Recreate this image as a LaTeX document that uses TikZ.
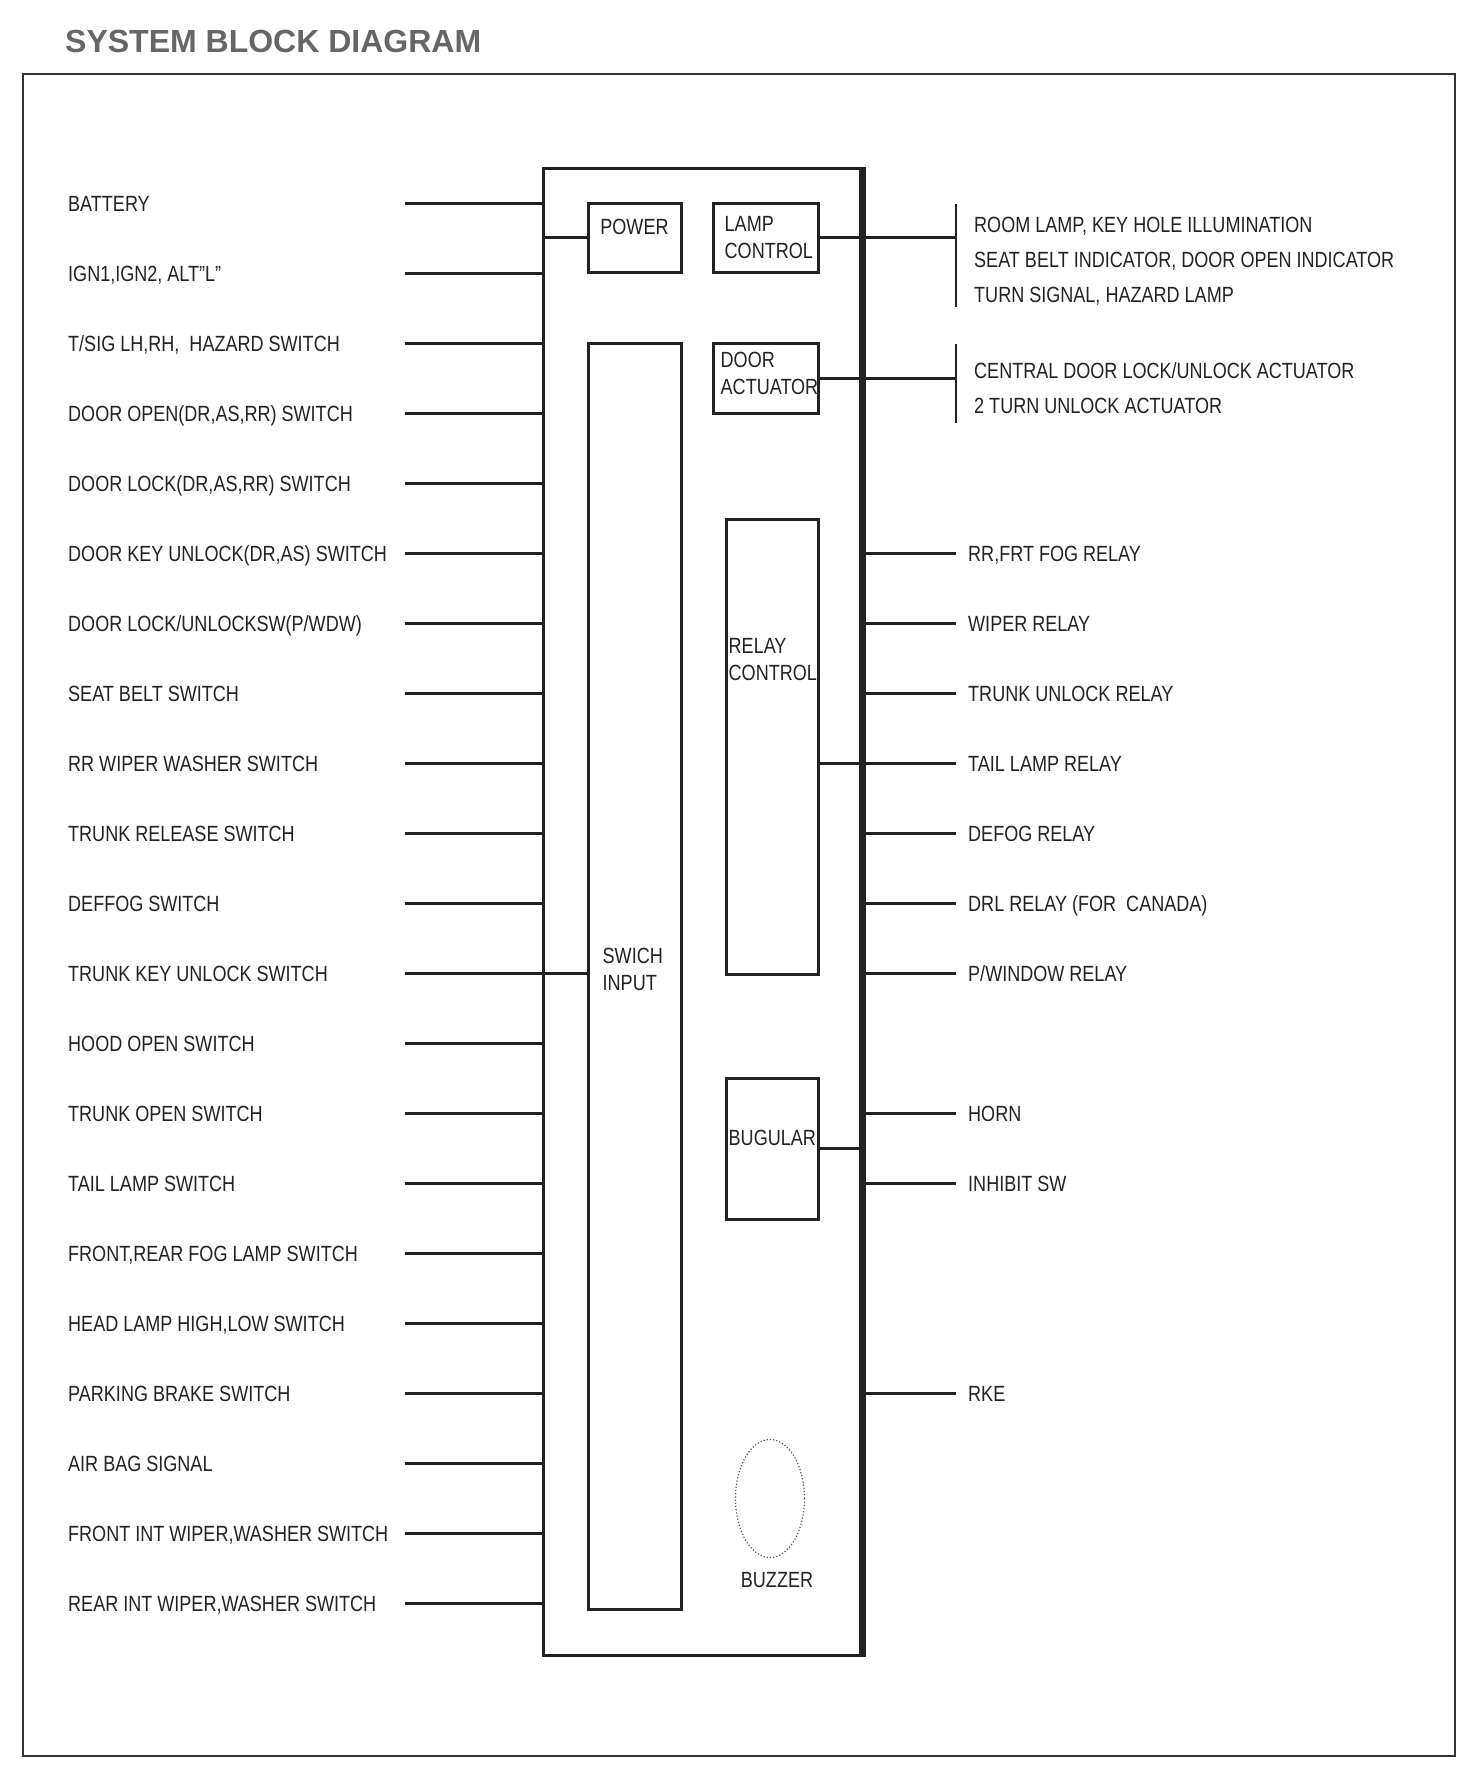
\documentclass[tikz,border=0pt]{standalone}
\usepackage{fontspec}
\setmainfont{Liberation Sans}[FakeStretch=0.82]
\newfontfamily\headfont{Liberation Sans}
\usetikzlibrary{positioning,shapes.geometric}
\definecolor{ink}{HTML}{222222}
\definecolor{headgray}{HTML}{666666}
\definecolor{framegray}{HTML}{333333}
\definecolor{dotgray}{HTML}{555555}
\newcommand{\sigfont}{\fontsize{22pt}{27pt}\selectfont}
\newcommand{\listfont}{\fontsize{22pt}{35pt}\selectfont}
\tikzset{
  outerframe/.style={draw=framegray, line width=2.5pt},
  ecu/.style={draw=ink, line width=3pt, minimum width=318pt, minimum height=1487pt, inner sep=0pt},
  blk/.style={draw=ink, line width=3pt, inner sep=0pt},
  lbl/.style={inner sep=0pt, text=ink, font=\sigfont, text height=16pt, text depth=0pt, anchor=west},
  boxtxt/.style={inner sep=0pt, text=ink, font=\sigfont, align=left, anchor=north west},
  listtxt/.style={boxtxt, font=\listfont},
  wire/.style={draw=ink, line width=3pt},
  busbar/.style={draw=ink, line width=7pt},
  thinbus/.style={draw=ink, line width=2.2pt},
  dotring/.style={ellipse, draw=dotgray, dotted, line width=1.2pt, inner sep=0pt}
}
\begin{document}
\begin{tikzpicture}[x=1pt, y=-1pt]
  \useasboundingbox (0,0) rectangle (1478,1780);
  \node[anchor=west, inner sep=0pt, text=headgray, font=\headfont\bfseries\fontsize{32pt}{38pt}\selectfont] (title) at (65,41) {SYSTEM BLOCK DIAGRAM};
  \draw[outerframe] (23,74) rectangle (1455,1756);
  \node[ecu] (bcm) at (702,911.5) {};
  \node[blk, minimum width=93pt, minimum height=69pt] (power) at (634.5,237.5) {};
  \node[blk, minimum width=105pt, minimum height=69pt] (lamp) at (765.5,237.5) {};
  \node[blk, minimum width=105pt, minimum height=70pt] (door) at (765.5,378) {};
  \node[blk, minimum width=93pt, minimum height=1266pt] (swin) at (634.5,976) {};
  \node[blk, minimum width=92pt, minimum height=455pt] (relay) at (772,746.5) {};
  \node[blk, minimum width=92pt, minimum height=141pt] (bug) at (772,1148.5) {};
  \node[dotring, minimum width=69pt, minimum height=118pt] (buzz) at (770,1498.5) {};
  \node[lbl, below=17pt of power.north] (powertxt) {POWER};
  \node[boxtxt, below right=15pt and 13pt of lamp.north west] (lamptxt) {LAMP\\CONTROL};
  \node[boxtxt, below right=10pt and 9pt of door.north west] (doortxt) {DOOR\\ACTUATOR};
  \node[boxtxt, below right=606pt and 16pt of swin.north west] (swintxt) {SWICH\\INPUT};
  \node[boxtxt, below right=121pt and 4pt of relay.north west] (relaytxt) {RELAY\\CONTROL};
  \node[boxtxt, below right=53pt and 4pt of bug.north west] (bugtxt) {BUGULAR};
  \node[lbl, below=13pt of buzz.south, xshift=7pt] (buzztxt) {BUZZER};
  \foreach \t [count=\k from 0] in {BATTERY, {IGN1,IGN2, ALT"L"}, {T/SIG LH,RH,~ HAZARD SWITCH},
      {DOOR OPEN(DR,AS,RR) SWITCH}, {DOOR LOCK(DR,AS,RR) SWITCH}, {DOOR KEY UNLOCK(DR,AS) SWITCH},
      {DOOR LOCK/UNLOCKSW(P/WDW)}, SEAT BELT SWITCH, RR WIPER WASHER SWITCH, TRUNK RELEASE SWITCH,
      DEFFOG SWITCH, TRUNK KEY UNLOCK SWITCH, HOOD OPEN SWITCH, TRUNK OPEN SWITCH, TAIL LAMP SWITCH,
      {FRONT,REAR FOG LAMP SWITCH}, {HEAD LAMP HIGH,LOW SWITCH}, PARKING BRAKE SWITCH, AIR BAG SIGNAL,
      {FRONT INT WIPER,WASHER SWITCH}, {REAR INT WIPER,WASHER SWITCH}} {
    \node[lbl] (in\k) at (68,{203+70*\k}) {\t};
    \coordinate (a\k) at (405,{203+70*\k});
    \draw[wire] (a\k) -- (a\k -| bcm.west);
  }
  \foreach \k/\t in {5/{RR,FRT FOG RELAY}, 6/WIPER RELAY, 7/TRUNK UNLOCK RELAY, 8/TAIL LAMP RELAY,
      9/DEFOG RELAY, 10/{DRL RELAY (FOR~ CANADA)}, 11/{P/WINDOW RELAY}, 13/HORN, 14/INHIBIT SW, 17/RKE} {
    \coordinate (b\k) at (956,{203+70*\k});
    \node[lbl, right=12pt of b\k] (out\k) {\t};
    \draw[wire] (b\k -| bcm.east) -- (b\k);
  }
  \coordinate (lampbus) at (956,204);
  \coordinate (doorbus) at (956,344);
  \draw[thinbus] (lampbus) -- ++(0,103);
  \draw[thinbus] (doorbus) -- ++(0,79);
  \node[listtxt, below right=13pt and 18pt of lampbus] (lampout) {ROOM LAMP, KEY HOLE ILLUMINATION\\SEAT BELT INDICATOR, DOOR OPEN INDICATOR\\TURN SIGNAL, HAZARD LAMP};
  \node[listtxt, below right=18pt and 18pt of doorbus] (doorout) {CENTRAL DOOR LOCK/UNLOCK ACTUATOR\\2 TURN UNLOCK ACTUATOR};
  \draw[wire] (power.west) -- (power.west -| bcm.west);
  \draw[wire] (a11 -| bcm.west) -- (a11 -| swin.west);
  \draw[wire] (lamp.east) -- (lamp.east -| lampbus);
  \draw[wire] (door.east) -- (door.east -| doorbus);
  \draw[wire] (relay.east |- b8) -- (b8 -| bcm.east);
  \draw[wire] (bug.east) -- (bug.east -| bcm.east);
  \draw[busbar] (bcm.north east) -- (bcm.south east);
\end{tikzpicture}
\end{document}
